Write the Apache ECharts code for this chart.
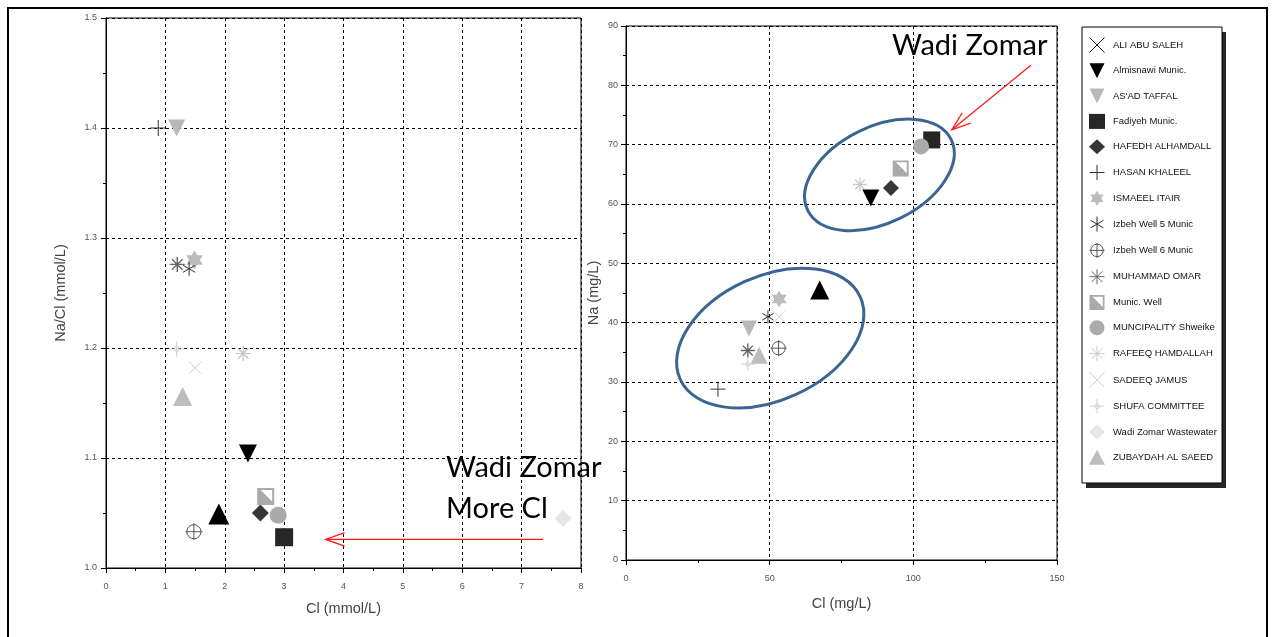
<!DOCTYPE html>
<html><head><meta charset="utf-8">
<script src="https://cdn.jsdelivr.net/npm/echarts@6/dist/echarts.min.js"></script>
<style>html,body{margin:0;padding:0;background:#fff}#c{width:1274px;height:637px}</style>
</head><body><div id="c"></div>
<script>
// ---------------- data ----------------
const stations = ['ALI ABU SALEH','Almisnawi Munic.',"AS'AD TAFFAL",'Fadiyeh Munic.','HAFEDH ALHAMDALLAH','HASAN KHALEEL','ISMAEEL ITAIR','Izbeh Well 5 Munic','Izbeh Well 6 Munic','MUHAMMAD OMAR','Munic. Well','MUNCIPALITY Shweike','RAFEEQ HAMDALLAH','SADEEQ JAMUS','SHUFA COMMITTEE','Wadi Zomar Wastewater','ZUBAYDAH AL SAEED','Unlabelled well'];
const legendNames = stations.slice(0, 17);
// left panel: Cl (mmol/L) vs Na/Cl (mmol/L)
const clMmol   = [null, 2.39, 1.19, 3.00, 2.60, 0.88, 1.49, 1.40, 1.48, 1.20, 2.69, 2.90, 2.31, 1.50, 1.19, 7.70, 1.29, 1.90];
const naClRatio= [null, 1.104,1.400,1.028,1.050,1.400,1.280,1.272,1.033,1.276,1.065,1.048,1.195,1.182,1.199,1.045,1.156,1.049];
// right panel: Cl (mg/L) vs Na (mg/L)
const clMg     = [null, 85.2, 42.8, 106.4, 92.2, 32.0, 53.3, 49.4, 53.1, 42.4, 95.6, 102.7, 81.4, 53.3, 42.4, null, 46.3, 67.4];
const naMg     = [null, 61.0, 39.0, 70.8, 62.7, 28.8, 44.0, 41.0, 35.7, 35.3, 66.0, 69.7, 63.3, 41.0, 33.0, null, 34.5, 45.5];
const leftXTicks = [0,1,2,3,4,5,6,7,8];
const leftYTicks = [1.0,1.1,1.2,1.3,1.4,1.5];
const rightXTicks = [0,50,100,150];
const rightYTicks = [0,10,20,30,40,50,60,70,80,90];

// ---------------- styles ----------------
const P = {
  x: 'path://M0 0L10 10M10 0L0 10',
  plus: 'path://M5 0L5 10M0 5L10 5',
  down: 'path://M0 0L10 0L5 10Z',
  ast6: 'path://M5 0L5 10M0.7 2.5L9.3 7.5M0.7 7.5L9.3 2.5',
  ast8: 'path://M5 0L5 10M0 5L10 5M1.5 1.5L8.5 8.5M8.5 1.5L1.5 8.5',
  cplus: 'path://M1 6A5 5 0 1 1 11 6A5 5 0 1 1 1 6ZM6 0L6 12M0 6L12 6',
  cross: 'path://M5 0L5 10M0 5L10 5M3.4 5A1.6 1.6 0 1 1 6.6 5A1.6 1.6 0 1 1 3.4 5Z',
  hex: 'path://M5 0L9.33 7.5L0.67 7.5ZM5 10L0.67 2.5L9.33 2.5Z',
  half: 'path://M0 0L10 0L10 10L0 10ZM2 1.2L8.8 8L8.8 1.2Z'
};
const sty = [
  {s:P.x, c:'#222', line:true, sz:12},
  {s:P.down, c:'#000', sz:18},
  {s:P.down, c:'#b9b9b9', sz:17},
  {s:'rect', c:'#262626', sz:18},
  {s:'diamond', c:'#363636', sz:17},
  {s:P.plus, c:'#333', line:true, sz:16},
  {s:P.hex, c:'#bcbcbc', sz:19},
  {s:P.ast6, c:'#333', line:true, sz:14},
  {s:P.cplus, c:'#555', line:true, sz:17},
  {s:P.ast8, c:'#666', line:true, sz:15, w:1.4},
  {s:P.half, c:'#aaaaaa', sz:17},
  {s:'circle', c:'#aaaaaa', sz:17},
  {s:P.ast8, c:'#c6c6c6', line:true, sz:15, w:1.2},
  {s:P.x, c:'#cfcfcf', line:true, sz:12},
  {s:P.cross, c:'#d2d2d2', line:true, sz:15},
  {s:'diamond', c:'#e6e6e6', sz:17},
  {s:'triangle', c:'#bdbdbd', sz:19},
  {s:'triangle', c:'#000', sz:21}
];

const FONT = 'Liberation Sans, Arial, sans-serif';
const series = [];
stations.forEach((name, i) => {
  const st = sty[i];
  const itemStyle = st.line ? {color:'rgba(0,0,0,0)', borderColor:st.c, borderWidth:st.w||1, opacity:1} : {color:st.c, opacity:1};
  const base = {type:'scatter', name, symbol:st.s, symbolKeepAspect:true, itemStyle, emphasis:{disabled:true}, z: 3};
  series.push(Object.assign({}, base, {xAxisIndex:0, yAxisIndex:0, symbolSize: st.sz,
    data: clMmol[i] == null ? [] : [[clMmol[i], naClRatio[i]]]}));
  series.push(Object.assign({}, base, {xAxisIndex:1, yAxisIndex:1, symbolSize: Math.round(st.sz*0.92),
    data: clMg[i] == null ? [] : [[clMg[i], naMg[i]]]}));
});

const axisCommon = {
  axisLine:{onZero:false, lineStyle:{color:'#000', width:1}},
  axisTick:{show:true, length:5, lineStyle:{color:'#000'}},
  minorTick:{show:true, splitNumber:2, length:3, lineStyle:{color:'#000'}},
  axisLabel:{color:'#555', fontSize:9, fontFamily:FONT, margin:10},
  splitLine:{show:true, lineStyle:{color:'#000', type:[3,3], width:1}},
  nameLocation:'middle',
  nameTextStyle:{color:'#444', fontSize:14.5, fontFamily:FONT}
};
function ax(o){ return Object.assign({}, JSON.parse(JSON.stringify(axisCommon)), o); }

const chart = echarts.init(document.getElementById('c'), null, {renderer:'canvas'});
chart.setOption({
  animation:false,
  backgroundColor:'#fff',
  grid:[
    {left:106, top:18, width:475, height:550, show:true, borderColor:'#000', borderWidth:1},
    {left:626, top:26, width:431, height:534, show:true, borderColor:'#000', borderWidth:1}
  ],
  xAxis:[
    ax({gridIndex:0, type:'value', min:leftXTicks[0], max:leftXTicks[leftXTicks.length-1], interval:1, name:'Cl (mmol/L)', nameGap:33,
        axisLabel:{color:'#555', fontSize:9, fontFamily:FONT, margin:14}}),
    ax({gridIndex:1, type:'value', min:rightXTicks[0], max:rightXTicks[rightXTicks.length-1], interval:50, name:'Cl (mg/L)', nameGap:36,
        axisLabel:{color:'#555', fontSize:9, fontFamily:FONT, margin:14}})
  ],
  yAxis:[
    ax({gridIndex:0, type:'value', min:leftYTicks[0], max:leftYTicks[leftYTicks.length-1], interval:0.1, name:'Na/Cl (mmol/L)', nameGap:38,
        axisLabel:{color:'#555', fontSize:9, fontFamily:FONT, margin:9, formatter:v=>v.toFixed(1)}}),
    ax({gridIndex:1, type:'value', min:rightYTicks[0], max:rightYTicks[rightYTicks.length-1], interval:10, name:'Na (mg/L)', nameGap:25,
        axisLabel:{color:'#555', fontSize:9, fontFamily:FONT, margin:8}})
  ],
  legend:{
    data: legendNames,
    orient:'vertical', left:1082, top:27,
    itemWidth:16, itemHeight:15, itemGap:10.3,
    padding:[10,4,15,7],
    selectedMode:false,
    itemStyle:{borderWidth:1},
    textStyle:{fontSize:9.5, lineHeight:15, color:'#111', fontFamily:'Liberation Sans Narrow, Liberation Sans, Arial', width:106, overflow:'truncate', ellipsis:'', padding:[0,0,0,3]}
  },
  series
});

// ---------------- annotations ----------------
const L = p => chart.convertToPixel({gridIndex:0}, p);
const R = p => chart.convertToPixel({gridIndex:1}, p);
function arrow(a, b){
  const ang = Math.atan2(b[1]-a[1], b[0]-a[0]);
  const len = 20, spread = 0.34;
  const h1 = [b[0]-len*Math.cos(ang-spread), b[1]-len*Math.sin(ang-spread)];
  const h2 = [b[0]-len*Math.cos(ang+spread), b[1]-len*Math.sin(ang+spread)];
  return [
    {type:'polyline', shape:{points:[a,b]}, style:{stroke:'#ff1a1a', lineWidth:1.3, fill:null}, z:10},
    {type:'polyline', shape:{points:[h1,b,h2]}, style:{stroke:'#ff1a1a', lineWidth:1.3, fill:null}, z:10}
  ];
}
const e1 = R([50.2, 37.4]), e2 = R([88.2, 64.9]);
const txt = {fill:'#000', font:'29px Lato, "Open Sans", sans-serif'};
chart.setOption({graphic:[
  {type:'rect', shape:{x:8, y:8, width:1259, height:640}, style:{fill:null, stroke:'#000', lineWidth:2}, z:20},
  // legend frame with drop shadow
  {type:'rect', shape:{x:1086, y:32, width:140, height:456}, style:{fill:'#262626'}, z:-2},
  {type:'rect', shape:{x:1082, y:27, width:140, height:456}, style:{fill:'#fff', stroke:'#000', lineWidth:1}, z:-1},
  {type:'ellipse', x:e1[0], y:e1[1], rotation:0.43, shape:{cx:0, cy:0, rx:99, ry:62}, style:{fill:null, stroke:'#3b6593', lineWidth:3}, z:10},
  {type:'ellipse', x:e2[0], y:e2[1], rotation:0.46, shape:{cx:0, cy:0, rx:80, ry:48}, style:{fill:null, stroke:'#3b6593', lineWidth:3}, z:10},
  ...arrow(L([7.36, 1.026]), L([3.70, 1.026])),
  ...arrow(R([140.9, 83.4]), R([113.4, 72.5])),
  {type:'text', x:446, y:453, style:Object.assign({text:'Wadi Zomar'}, txt), z:11},
  {type:'text', x:446, y:494, style:Object.assign({text:'More Cl'}, txt), z:11},
  {type:'text', x:892, y:31, style:Object.assign({text:'Wadi Zomar'}, txt), z:11}
]});
</script></body></html>
